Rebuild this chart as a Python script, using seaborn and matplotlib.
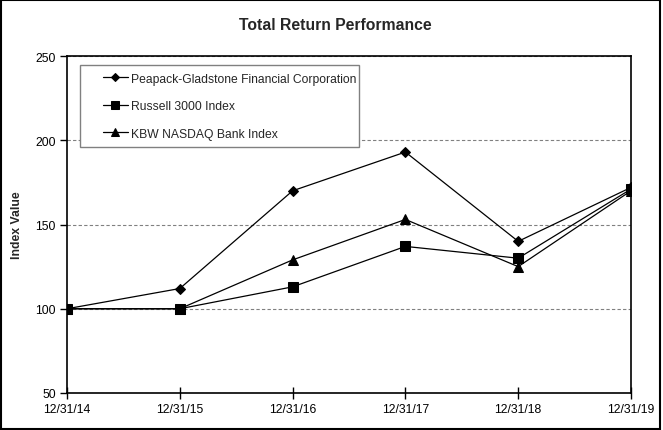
import matplotlib
matplotlib.use("Agg")
import matplotlib.pyplot as plt
import pandas as pd
import seaborn as sns

dates = ["12/31/14", "12/31/15", "12/31/16", "12/31/17", "12/31/18", "12/31/19"]
peapack = [100, 112, 170, 193, 140, 172]
russell = [100, 100, 113, 137, 130, 171]
kbw = [100, 100, 129, 153, 125, 170]
series_names = [
    "Peapack-Gladstone Financial Corporation",
    "Russell 3000 Index",
    "KBW NASDAQ Bank Index",
]

rows = []
for name, vals in zip(series_names, [peapack, russell, kbw]):
    for i, v in enumerate(vals):
        rows.append({"idx": i, "value": v, "series": name})
df = pd.DataFrame(rows)

sns.set_style("white")
plt.rcParams["font.family"] = ["Liberation Sans", "DejaVu Sans"]

W, H = 663, 431
fig = plt.figure(figsize=(W / 100, H / 100), dpi=100)
ax = fig.add_axes([67 / W, 1 - 394 / H, (631 - 67) / W, (394 - 57) / H])

sns.lineplot(
    ax=ax,
    data=df,
    x="idx",
    y="value",
    style="series",
    hue="series",
    palette=["black"] * 3,
    markers={series_names[0]: "D", series_names[1]: "s", series_names[2]: "^"},
    dashes=False,
    linewidth=0.9,
    markersize=6.5,
    markeredgecolor="black",
)
for line, ms in zip(ax.lines, [5.5, 6.5, 7]):
    line.set_markersize(ms)

ax.set_xlim(0, 5)
ax.set_ylim(50, 250)
ax.set_xticks(range(len(dates)))
ax.set_xticklabels(dates)
ax.set_yticks([50, 100, 150, 200, 250])
ax.yaxis.grid(True, linestyle=(0, (3, 2)), color="#808080", linewidth=0.8)
ax.set_axisbelow(True)
for s in ax.spines.values():
    s.set_color("black")
    s.set_linewidth(1.2)
ax.tick_params(axis="x", bottom=True, direction="inout", length=8, width=1,
               labelsize=8.8, pad=3, colors="black")
ax.tick_params(axis="y", left=True, direction="out", length=5, width=1,
               labelsize=8.8, pad=3, colors="black")
ax.set_xlabel("")
ax.set_ylabel("Index Value", fontsize=8.8, fontweight="bold", labelpad=9)

# legend box as drawn by the original (wide left margin, tight right)
box = plt.Rectangle((80 / W, 1 - 148 / H), (359 - 80) / W, (148 - 66) / H,
                    transform=fig.transFigure, facecolor="white",
                    edgecolor="#808080", linewidth=1.0, zorder=4, clip_on=False)
ax.add_patch(box)

handles, labels = ax.get_legend_handles_labels()
for h, ms in zip(handles, [4.5, 5.5, 5.5]):
    h.set_markersize(ms)
leg = ax.legend(
    handles, labels,
    loc="upper left",
    bbox_to_anchor=(99 / W, 1 - 70 / H),
    bbox_transform=fig.transFigure,
    frameon=False,
    fontsize=8.7,
    handlelength=2.1,
    handletextpad=0.25,
    labelspacing=1.28,
    borderpad=0.3,
    borderaxespad=0,
)
leg.set_zorder(5)

fig.text(0.505, 1 - 25 / H, "Total Return Performance", ha="center", va="center",
         fontsize=11.3, fontweight="bold")

border = plt.Rectangle((0.002, 0.002), 0.994, 0.995, transform=fig.transFigure,
                       fill=False, edgecolor="black", linewidth=1.5)
fig.patches.append(border)

fig.savefig("out.png", dpi=100)
